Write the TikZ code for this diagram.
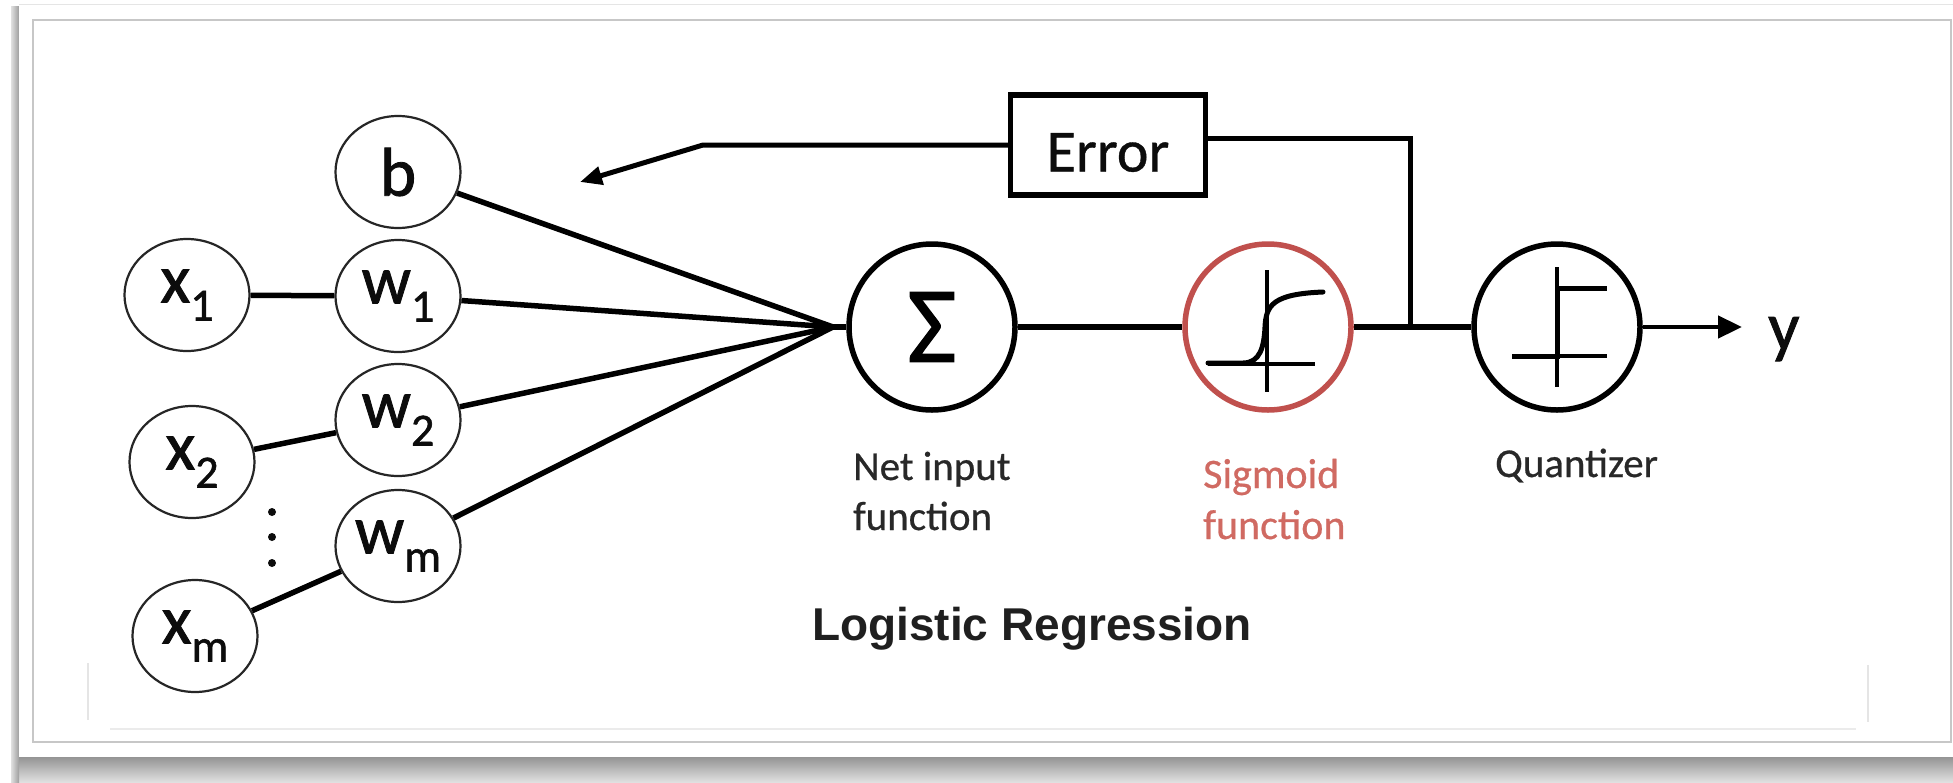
\documentclass[tikz,border=0pt]{standalone}
\usepackage{fontspec}
\setmainfont{Carlito}
\newfontfamily\symfont{Carlito}[FakeBold=1.2]
\newfontfamily\capfont{Carlito}[FakeBold=0.6]
\newfontfamily\titlefont{Liberation Sans}
\usetikzlibrary{shapes.geometric, arrows.meta, calc}

\definecolor{sigred}{RGB}{192,80,77}
\definecolor{sigtext}{RGB}{208,106,98}
\definecolor{ink}{RGB}{12,12,12}
\definecolor{labelink}{RGB}{40,40,40}

% lowered index for the input and weight symbols
\newcommand\idx[1]{\raisebox{-18pt}{\fontsize{46}{46}\selectfont #1}}

\begin{document}
\begin{tikzpicture}[x=1pt, y=-1pt,
  unit/.style={ellipse, draw=black!85, line width=2.2pt, fill=white,
    minimum width=125pt, minimum height=112pt, inner sep=0pt,
    text=ink, font=\symfont\fontsize{69}{69}\selectfont},
  stage/.style={circle, draw=black, line width=5.5pt, fill=white,
    minimum size=166pt, inner sep=0pt},
  wire/.style={line width=5.5pt, black},
  thinaxis/.style={line width=3.2pt, black},
  curvepart/.style={line width=5pt, black, line cap=round},
  caption/.style={inner sep=0pt, anchor=base west, text=labelink,
    font=\capfont\fontsize{41}{41}\selectfont},
  redcaption/.style={caption, text=sigtext, font=\capfont\fontsize{42}{42}\selectfont},
]
\useasboundingbox (0,0) rectangle (1953,782);

% card with its drop shadow
\fill[white] (0,0) rectangle (1953,782);
\shade[top color=black!42, bottom color=black!12] (13,757) rectangle (1953,782);
\shade[left color=black!12, right color=black!38] (11,6) rectangle (19,782);
\fill[white] (19,4) rectangle (1953,757);
\draw[black!10, line width=1pt] (19,4) -- (1953,4);
\draw[black!22, line width=1.5pt] (33,20) rectangle (1951,742);
\draw[black!8, line width=1.2pt] (110,729) -- (1856,729);
\draw[black!10, line width=1.5pt] (88,663) -- (88,720);
\draw[black!10, line width=1.5pt] (1868,665) -- (1868,722);

% bias, weights and inputs
\node[unit] (b)  at (398,172) {b};
\node[unit] (w1) at (398,296) {w\idx{1}};
\node[unit] (w2) at (398,420) {w\idx{2}};
\node[unit] (wm) at (398,546) {w\idx{m}};
\node[unit] (x1) at (187,295) {x\idx{1}};
\node[unit] (x2) at (192,462) {x\idx{2}};
\node[unit] (xm) at (195,636) {x\idx{m}};

\foreach \yy in {512,537,563} \fill[ink] (272,\yy) circle (4pt);

\draw[wire] (x1) -- (w1);
\draw[wire] (x2) -- (w2);
\draw[wire] (xm) -- (wm);

% processing stages
\node[stage] (sum) at (932,327) {\symfont\fontsize{108}{108}\selectfont Σ};
\node[stage, draw=sigred] (sig) at (1268,327) {};
\node[stage] (quant) at (1557,327) {};

\coordinate (conv) at (833,327);
\foreach \n in {b,w1,w2,wm} \draw[wire] (\n) -- (conv);
\draw[wire] (conv) -- (sum);
\draw[wire] (sum) -- (sig);
\draw[wire] (sig) -- (quant);

% sigmoid glyph
\begin{scope}[shift={(sig)}]
  \draw[thinaxis] (-1,-57) -- (-1,65);
  \draw[thinaxis] (-60,37) -- (47,37);
  \draw[curvepart] (-60,36) -- (-25,36) .. controls (-8,36) and (-4,20) .. (-3,0)
    .. controls (-2,-22) and (5,-33) .. (55,-35);
\end{scope}

% step glyph
\begin{scope}[shift={(quant)}]
  \draw[thinaxis] (0,-60) -- (0,60);
  \draw[thinaxis] (-45,29) -- (50,29);
  \draw[curvepart, line cap=butt] (-45,29) -- (0,29) -- (0,-39) -- (50,-39);
\end{scope}

% error feedback
\node[draw=black, line width=5.5pt, fill=white, minimum width=195pt,
  minimum height=100pt, inner sep=0pt, text=ink, text height=53pt,
  text depth=0pt, font=\capfont\fontsize{60}{60}\selectfont] (err) at (1108,145) {Error};
\coordinate (j) at (1410,327);
\coordinate (c1) at (1410,138);
\coordinate (c2) at (703,145);
\coordinate (fb) at (580,182);
\draw[line width=5pt] (j) -- (c1) -- (c1 -| err.east);
\draw[line width=5pt, -{Triangle[length=22pt,width=18pt]}] (err.west) -- (c2) -- (fb);

% output
\node[inner sep=0pt, anchor=base west, text=ink, font=\symfont\fontsize{69}{69}\selectfont]
  (ylab) at (1768,350) {y};
\draw[line width=4.5pt, -{Triangle[length=24pt,width=22pt]}, shorten >=26pt]
  (quant) -- (quant -| ylab.west);

% captions
\node[caption] (net1) at (853,480) {Net input};
\node[caption] (net2) at (853,530) {function};
\node[redcaption] (sg1) at (1203,488) {Sigmoid};
\node[redcaption] (sg2) at (1203,539) {function};
\node[caption] (qlab) at (1495,477) {Quantizer};
\node[inner sep=0pt, anchor=base, text=black!88,
  font=\titlefont\bfseries\fontsize{46}{46}\selectfont] (title) at (1032,640) {Logistic Regression};
\end{tikzpicture}
\end{document}
